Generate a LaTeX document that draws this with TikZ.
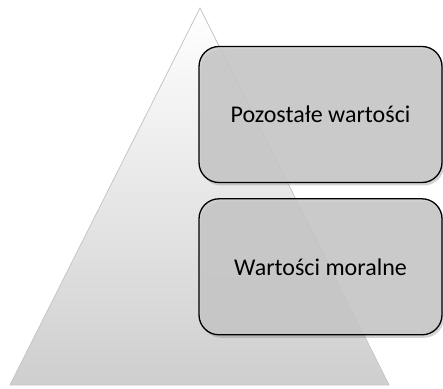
\documentclass[tikz,border=0pt]{standalone}
\usepackage{fontspec}
\setmainfont{Carlito}
\usepackage{tikz}
\usetikzlibrary{positioning,shadows}

\tikzset{
  valuebox/.style={draw=black, line width=1.3pt, rounded corners=20pt,
    fill=gray!42, fill opacity=0.85, text opacity=1,
    minimum width=243pt, minimum height=136pt, font=\fontsize{24}{26}\selectfont,
    drop shadow={shadow xshift=2pt, shadow yshift=-3pt, opacity=0.35}},
}

\begin{document}
\begin{tikzpicture}[x=1pt, y=1pt]
  \useasboundingbox (0,0) rectangle (443,388);
  % Pyramid
  \coordinate (apex) at (200,380);
  \coordinate (baseL) at (10,3);
  \coordinate (baseR) at (389,3);
  \shade[top color=white, bottom color=gray!38, draw=gray!45, line width=0.8pt]
    (apex) -- (baseR) -- (baseL) -- cycle;
  % Boxes
  \node[valuebox] (other) at (320.5,273.5) {Pozostałe wartości};
  \node[valuebox, below=15pt of other] (moral) {Wartości moralne};
\end{tikzpicture}
\end{document}
